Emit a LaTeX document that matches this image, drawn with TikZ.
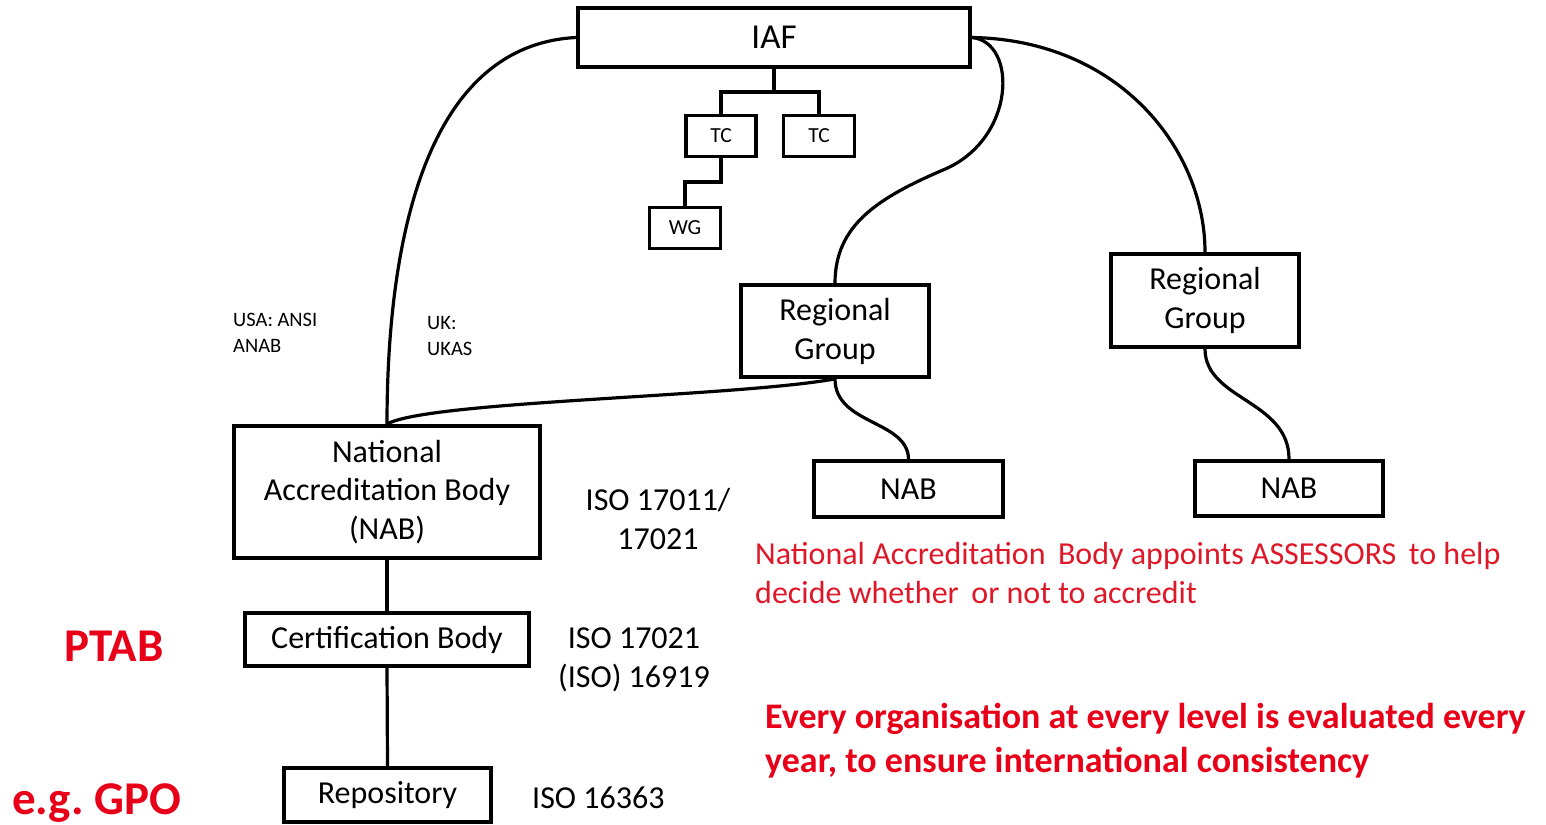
\documentclass[tikz,border=0pt]{standalone}
\usepackage{fontspec}
\setmainfont{Carlito}
\definecolor{notered}{RGB}{222,24,40}
\definecolor{boldred}{RGB}{232,0,24}
\newcommand\fsz[2]{\fontsize{#1}{#2}\selectfont}
\tikzset{
  box/.style={draw, line width=3.8pt, inner sep=0pt, align=center, fill=white},
  link/.style={line width=3.2pt},
  lbl/.style={inner sep=0pt, align=left},
}
\begin{document}
\begin{tikzpicture}[x=1pt, y=-1pt]
\useasboundingbox (0,0) rectangle (1546,824);
\fill[white] (0,0) rectangle (1546,824);

% boxes
\node[box, minimum width=392pt, minimum height=59pt, font=\fsz{35}{40}] (iaf) at (774,37.5) {IAF};
\node[box, minimum width=70pt, minimum height=41pt, font=\fsz{21.5}{24}] (tc1) at (721,136) {TC};
\node[box, minimum width=71pt, minimum height=41pt, font=\fsz{21.5}{24}] (tc2) at (819,136) {TC};
\node[box, minimum width=71pt, minimum height=41pt, font=\fsz{21.5}{24}] (wg) at (685,228) {WG};
\node[box, minimum width=188pt, minimum height=92pt, font=\fsz{32}{39}] (rg1) at (835,331) {Regional\\Group};
\node[box, minimum width=188pt, minimum height=93pt, font=\fsz{32}{39}] (rg2) at (1205,300.5) {Regional\\Group};
\node[box, minimum width=189pt, minimum height=56pt, font=\fsz{32}{39}] (nab1) at (908.5,489) {NAB};
\node[box, minimum width=188pt, minimum height=55pt, font=\fsz{32}{39}] (nab2) at (1289,488.5) {NAB};
\node[box, minimum width=306pt, minimum height=132pt, font=\fsz{32}{38.5}] (nab) at (387,492) {National\\Accreditation Body\\(NAB)};
\node[box, minimum width=284pt, minimum height=53pt, font=\fsz{32}{39}] (cb) at (387,639.5) {Certification Body};
\node[box, minimum width=207pt, minimum height=54pt, font=\fsz{32}{39}] (repo) at (387.5,795) {Repository};

% tree below IAF
\coordinate (j1) at (774,92);
\coordinate (j2) at (721,182);
\draw[link] (iaf.south) -- (j1);
\draw[link] (tc1.north) |- (j1) -| (tc2.north);
\draw[link] (tc1.south) -- (j2) -| (wg.north);

% curved links
\draw[link] (iaf.west) .. controls (430,45) and (387,230) .. (nab.north);
\draw[link] (nab.north) .. controls (427,401) and (735,397) .. (rg1.south);
\draw[link] (iaf.east) .. controls (1018,42) and (1016,140) .. (943,170)
                       .. controls (878,198) and (835,225) .. (rg1.north);
\draw[link] (iaf.east) .. controls (1120,40) and (1205,150) .. (rg2.north);
\draw[link] (rg1.south) .. controls (835,425) and (908,420) .. (nab1.north);
\draw[link] (rg2.south) .. controls (1205,400) and (1289,400) .. (nab2.north);
\draw[link] (nab.south) -- (cb.north);
\draw[link] (cb.south) -- (repo.north);

% side labels
\node[lbl, anchor=north west, font=\fsz{20.5}{26}] (usa) at (233,313) {USA: ANSI\\ANAB};
\node[lbl, anchor=north west, font=\fsz{20.5}{26}] (uk) at (427,316) {UK:\\UKAS};
\node[lbl, align=center, font=\fsz{32}{39}] (iso1) at (658,519) {ISO 17011/\\17021};
\node[lbl, align=center, font=\fsz{32}{39}] (iso2) at (634,660) {ISO 17021\\(ISO) 16919};
\node[lbl, anchor=west, font=\fsz{32}{39}] (iso3) at (532,798) {ISO 16363};

\node[lbl, anchor=west, text=boldred, font=\fsz{47}{52}\bfseries] (ptab) at (64,646) {PTAB};
\node[lbl, anchor=west, text=boldred, font=\fsz{47}{52}\bfseries] (gpo) at (12,803) {e.g.\ GPO};

\node[lbl, anchor=north west, text=notered, font=\fsz{32}{39}] (assess) at (755,542)
  {National Accreditation\, Body appoints ASSESSORS\, to help\\decide whether\, or not to accredit};
\node[lbl, anchor=north west, text=boldred, font=\fsz{36}{44}\bfseries] (every) at (765,703)
  {Every organisation at every level is evaluated every\\year, to ensure international consistency};
\end{tikzpicture}
\end{document}
